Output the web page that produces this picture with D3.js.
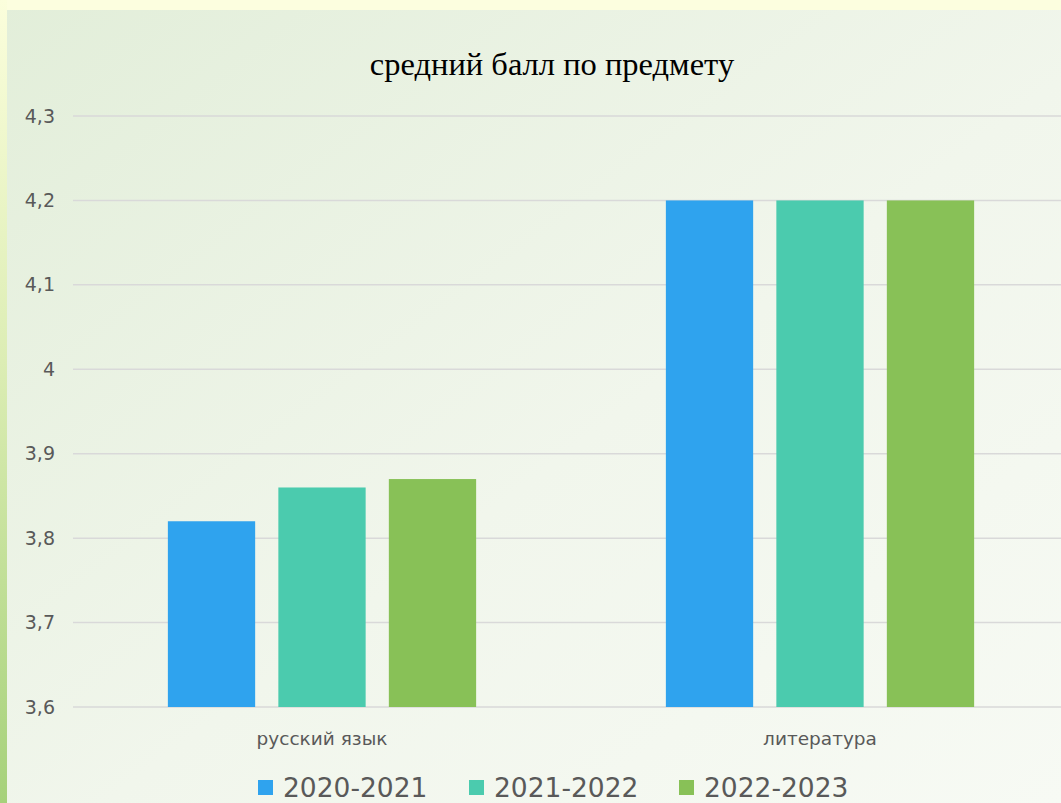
<!DOCTYPE html>
<html>
<head>
<meta charset="utf-8">
<script src="https://cdn.jsdelivr.net/npm/d3@7"></script>
<style>
  html, body { margin: 0; padding: 0; overflow: hidden; }
  body { width: 1061px; height: 803px; }
  .tick text { font-family: "DejaVu Sans", sans-serif; fill: #595959; }
</style>
</head>
<body>
<script>
(function(){

    // Data
    var subjects = ["русский язык", "литература"];
    var years = ["2020-2021", "2021-2022", "2022-2023"];
    var scores2020 = [3.82, 4.2];
    var scores2021 = [3.86, 4.2];
    var scores2022 = [3.87, 4.2];
    var yTicks = [3.6, 3.7, 3.8, 3.9, 4.0, 4.1, 4.2, 4.3];
    var colors = ["#2FA3EE", "#4BCBAE", "#88C157"];

    var seriesValues = [scores2020, scores2021, scores2022];

    var width = 1061, height = 803;

    var svg = d3.select("body")
        .append("svg")
        .attr("width", width)
        .attr("height", height);

    // slide background
    var defs = svg.append("defs");
    var bg = defs.append("linearGradient")
        .attr("id", "bgGrad")
        .attr("x1", "0%").attr("y1", "0%")
        .attr("x2", "100%").attr("y2", "100%");
    bg.append("stop").attr("offset", "0%").attr("stop-color", "#e2eed9");
    bg.append("stop").attr("offset", "55%").attr("stop-color", "#f1f6ec");
    bg.append("stop").attr("offset", "100%").attr("stop-color", "#f7faf4");

    var side = defs.append("linearGradient")
        .attr("id", "sideGrad")
        .attr("x1", "0%").attr("y1", "0%")
        .attr("x2", "0%").attr("y2", "100%");
    side.append("stop").attr("offset", "0%").attr("stop-color", "#fbfedc");
    side.append("stop").attr("offset", "45%").attr("stop-color", "#dcedb4");
    side.append("stop").attr("offset", "100%").attr("stop-color", "#a6d17a");

    svg.append("rect")
        .attr("width", width).attr("height", height)
        .attr("fill", "url(#bgGrad)");

    svg.append("rect")
        .attr("width", width).attr("height", 10)
        .attr("fill", "#fcfedf");

    svg.append("rect")
        .attr("x", 0).attr("y", 0)
        .attr("width", 7).attr("height", height)
        .attr("fill", "url(#sideGrad)");

    // scales
    var x0 = d3.scaleBand()
        .domain(subjects)
        .range([73, 1069])
        .paddingInner(0.381)
        .paddingOuter(0.1905);

    var x1 = d3.scaleBand()
        .domain(years)
        .range([0, x0.bandwidth()])
        .paddingInner(0.21)
        .paddingOuter(0);

    var y = d3.scaleLinear()
        .domain([3.6, 4.3])
        .range([707, 116]);

    // gridlines
    svg.append("g")
        .selectAll("line")
        .data(yTicks)
        .enter()
        .append("line")
        .attr("x1", 73)
        .attr("x2", width)
        .attr("y1", function(d){ return y(d); })
        .attr("y2", function(d){ return y(d); })
        .attr("stroke", "#d9d9d9")
        .attr("stroke-width", 1.5);

    // y axis labels
    var yAxis = d3.axisLeft(y)
        .tickValues(yTicks)
        .tickSize(0)
        .tickPadding(0)
        .tickFormat(function(d){ return d3.format(".1~f")(d).replace(".", ","); });

    var yG = svg.append("g")
        .attr("transform", "translate(55,0)")
        .call(yAxis);
    yG.select(".domain").remove();
    yG.selectAll("text").style("font-size", "19px");

    // bars
    years.forEach(function(yr, i){
        svg.append("g")
            .selectAll("rect")
            .data(subjects)
            .enter()
            .append("rect")
            .attr("x", function(d){ return x0(d) + x1(yr); })
            .attr("width", x1.bandwidth())
            .attr("y", function(d, j){ return y(seriesValues[i][j]); })
            .attr("height", function(d, j){ return y(3.6) - y(seriesValues[i][j]); })
            .attr("fill", colors[i]);
    });

    // category labels
    var xAxis = d3.axisBottom(x0).tickSize(0).tickPadding(0);
    var xG = svg.append("g")
        .attr("transform", "translate(0,731)")
        .call(xAxis);
    xG.select(".domain").remove();
    xG.selectAll("text")
        .style("font-size", "18.5px")
        .attr("dy", "0.76em");

    // title
    svg.append("text")
        .attr("x", 552)
        .attr("y", 75)
        .attr("text-anchor", "middle")
        .style("font-family", "'Liberation Serif', 'Times New Roman', serif")
        .style("font-size", "32.5px")
        .style("fill", "#000")
        .text("средний балл по предмету");

    // legend
    var legendX = [258, 469, 679];
    var legend = svg.append("g");
    years.forEach(function(yr, i){
        legend.append("rect")
            .attr("x", legendX[i])
            .attr("y", 780)
            .attr("width", 15)
            .attr("height", 15)
            .attr("fill", colors[i]);
        legend.append("text")
            .attr("x", legendX[i] + 25)
            .attr("y", 797)
            .style("font-family", "'DejaVu Sans', sans-serif")
            .style("font-size", "26.5px")
            .style("fill", "#595959")
            .text(yr);
    });

})();
</script>
</body>
</html>
